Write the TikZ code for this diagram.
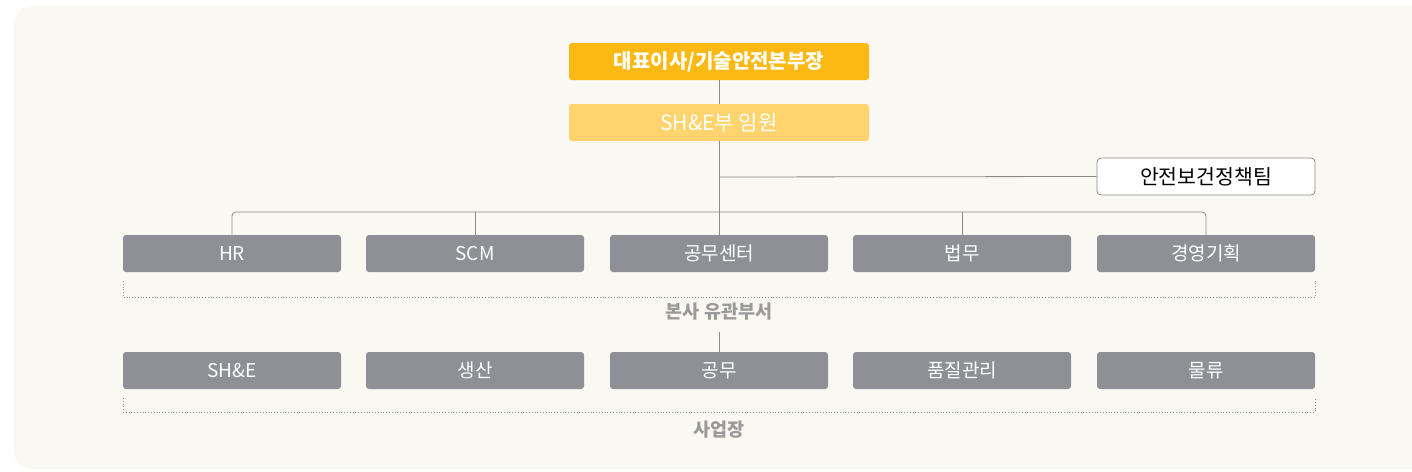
\documentclass[tikz,border=0pt]{standalone}
\usepackage{fontspec}
\setmainfont{Noto Sans CJK KR}
\usetikzlibrary{positioning}
\definecolor{panel}{HTML}{FAF8F3}
\definecolor{amber}{HTML}{FDB913}
\definecolor{lightamber}{HTML}{FFD46E}
\definecolor{boxgray}{HTML}{8E9096}
\definecolor{linegray}{HTML}{8A8A8A}
\definecolor{labelgray}{HTML}{9A9A9A}
\tikzset{
  topbox/.style={fill=amber, draw=none, rounded corners=3pt, minimum width=300pt, minimum height=37pt, text=white, font=\fontsize{20}{24}\selectfont\bfseries},
  secbox/.style={fill=lightamber, draw=none, rounded corners=3pt, minimum width=300pt, minimum height=37pt, text=white, font=\fontsize{21}{24}\selectfont},
  teambox/.style={fill=white, draw=linegray, line width=0.8pt, rounded corners=4pt, minimum width=218pt, minimum height=37pt, text=black, font=\fontsize{20.5}{24}\selectfont},
  deptbox/.style={fill=boxgray, draw=none, rounded corners=3pt, minimum width=218pt, minimum height=37pt, text=white, font=\fontsize{19}{22}\selectfont},
  conn/.style={draw=linegray, line width=0.8pt},
  bracket/.style={draw=linegray, line width=0.8pt, dotted},
  grouplabel/.style={text=labelgray, font=\fontsize{18.5}{22}\selectfont\bfseries}
}
\begin{document}
\begin{tikzpicture}[x=1pt,y=-1pt]
\useasboundingbox (0,0) rectangle (1412,471);
\fill[panel, rounded corners=18pt] (14,6) rectangle (1430,469);
\node[topbox] (ceo) at (719,61.5) {대표이사/기술안전본부장};
\node[secbox] (she) at (719,122.5) {SH\&E부 임원};
\node[teambox] (team) at (1206,176.5) {안전보건정책팀};
\coordinate (hub) at (719,212);
\coordinate (tj) at (719,177);
\node[deptbox] (hr) at (232,253.5) {HR};
\node[deptbox] (scm) at (475,253.5) {SCM};
\node[deptbox] (gm) at (719,253.5) {공무센터};
\node[deptbox] (law) at (962,253.5) {법무};
\node[deptbox] (plan) at (1206,253.5) {경영기획};
\node[grouplabel] (hq) at (719,312) {본사 유관부서};
\node[deptbox] (sse) at (232,370.5) {SH\&E};
\node[deptbox] (prod) at (475,370.5) {생산};
\node[deptbox] (gw) at (719,370.5) {공무};
\node[deptbox] (qc) at (962,370.5) {품질관리};
\node[deptbox] (log) at (1206,370.5) {물류};
\node[grouplabel] (site) at (719,430) {사업장};
\coordinate (hqb) at (719,332);
\draw[conn] (ceo.south) -- (she.north);
\draw[conn] (she.south) -- (hub);
\draw[conn] (tj) -- (team.west);
\draw[conn, rounded corners=4pt] (hr.north) -- (232,212) -- (1206,212) -- (plan.north);
\draw[conn] (scm.north) -- (475,212);
\draw[conn] (gm.north) -- (hub);
\draw[conn] (law.north) -- (962,212);
\draw[conn] (hqb) -- (gw.north);
\draw[bracket] (123,281) -- (123,297) -- (1315,297) -- (1315,281);
\draw[bracket] (123,398) -- (123,412) -- (1315,412) -- (1315,398);
\end{tikzpicture}
\end{document}
